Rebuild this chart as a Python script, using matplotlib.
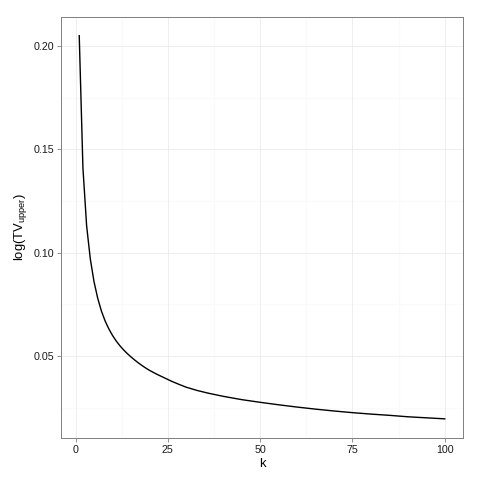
import matplotlib
matplotlib.use("Agg")
import matplotlib.pyplot as plt

plt.rcParams['font.family'] = ['Liberation Sans', 'DejaVu Sans']
plt.rcParams['mathtext.fontset'] = 'custom'
plt.rcParams['mathtext.rm'] = 'Liberation Sans'
plt.rcParams['mathtext.it'] = 'Liberation Sans:italic'

# values
k_values = [1, 2, 3, 4, 5, 6, 7, 8, 9, 10, 11, 12, 13, 14, 15, 16, 17, 18, 19, 20,
            22, 24, 26, 28, 30, 33, 36, 40, 45, 50, 55, 60, 65, 70, 75, 80, 85,
            90, 95, 100]
tv_upper = [0.205, 0.141, 0.113, 0.097, 0.086, 0.078, 0.0718, 0.0670, 0.0632,
            0.0600, 0.0573, 0.0550, 0.0530, 0.0512, 0.0496, 0.0481, 0.0467,
            0.0454, 0.0442, 0.0431, 0.0412, 0.0395, 0.0378, 0.0363, 0.0349,
            0.0333, 0.0320, 0.0305, 0.0289, 0.0276, 0.0264, 0.0253, 0.0243,
            0.0234, 0.0226, 0.0219, 0.0213, 0.0206, 0.0201, 0.0196]

x_ticks = [0, 25, 50, 75, 100]
x_minor = [12.5, 37.5, 62.5, 87.5]
y_ticks = [0.05, 0.10, 0.15, 0.20]
y_minor = [0.025, 0.075, 0.125, 0.175]

fig = plt.figure(figsize=(4.8, 4.8), dpi=100)
ax = fig.add_axes([0.127, 0.0875, 0.8376, 0.878])

ax.plot(k_values, tv_upper, color='black', linewidth=1.0, zorder=3)

# ggplot-like expansion of 5%
xr = max(k_values) - min(k_values)
yr = max(tv_upper) - min(tv_upper)
ax.set_xlim(min(k_values) - 0.05 * xr, max(k_values) + 0.05 * xr)
ax.set_ylim(min(tv_upper) - 0.05 * yr, max(tv_upper) + 0.05 * yr)

for v in x_minor:
    ax.axvline(v, color='#fafafa', linewidth=1.0, zorder=1)
for v in y_minor:
    ax.axhline(v, color='#fafafa', linewidth=1.0, zorder=1)
for v in x_ticks:
    ax.axvline(v, color='#ebebeb', linewidth=0.6, zorder=1)
for v in y_ticks:
    ax.axhline(v, color='#ebebeb', linewidth=0.6, zorder=1)

ax.set_xticks(x_ticks)
ax.set_xticklabels([str(v) for v in x_ticks])
ax.set_yticks(y_ticks)
ax.set_yticklabels([f"{v:.2f}" for v in y_ticks])

ax.tick_params(axis='both', length=3.1, width=0.6, color='#7f7f7f',
               labelsize=7.7, labelcolor='#1a1a1a', pad=2)
for s in ax.spines.values():
    s.set_color('#7f7f7f')
    s.set_linewidth(0.7)

ax.set_xlabel('k', fontsize=9.4, labelpad=2)
ax.set_ylabel(r'log(TV$_{\mathrm{upper}}$)', fontsize=9.4, labelpad=3)

fig.savefig('out.png', dpi=100, facecolor='white')
